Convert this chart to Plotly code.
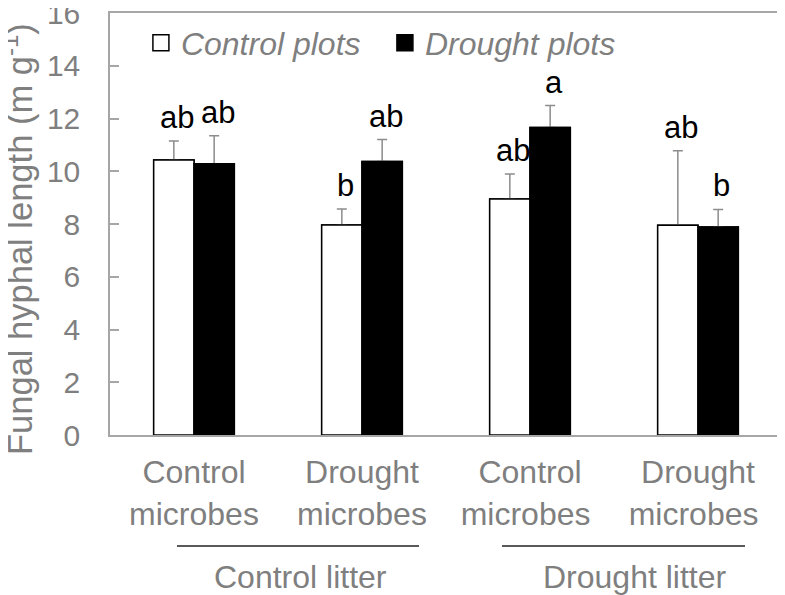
import plotly.graph_objects as go

categories = ["Control<br>microbes", "Drought<br>microbes", "Control<br>microbes ", "Drought<br>microbes "]
control_mean = [10.43, 7.96, 8.95, 7.95]
control_err = [0.72, 0.61, 0.95, 2.83]
drought_mean = [10.28, 10.37, 11.66, 7.89]
drought_err = [1.07, 0.83, 0.83, 0.66]
control_letters = ["ab", "b", "ab", "ab"]
drought_letters = ["ab", "ab", "a", "b"]
litter_groups = ["Control litter", "Drought litter"]
series_names = ["Control plots", "Drought plots"]
y_title = "Fungal hyphal length (m g<sup>-1</sup>)"

GRAY = "#7f7f7f"
AX = "#a6a6a6"
ERR = "#8c8c8c"
FONT = "Liberation Sans, Arial, sans-serif"

fig = go.Figure()
# bars with error bars (upper only)
fig.add_trace(go.Bar(
    x=categories, y=control_mean, name=series_names[0], showlegend=False, offsetgroup="c",
    marker=dict(color="white", line=dict(color="black", width=1.5)),
    error_y=dict(type="data", array=control_err, arrayminus=[0]*4, symmetric=False,
                 color=ERR, thickness=1.5, width=5),
))
fig.add_trace(go.Bar(
    x=categories, y=drought_mean, name=series_names[1], showlegend=False, offsetgroup="d",
    marker=dict(color="black", line=dict(color="black", width=1.5)),
    error_y=dict(type="data", array=drought_err, arrayminus=[0]*4, symmetric=False,
                 color=ERR, thickness=1.5, width=5),
))
# same bars drawn again on top so the error bars' lower caps are hidden
fig.add_trace(go.Bar(
    x=categories, y=control_mean, showlegend=False, offsetgroup="c", hoverinfo="skip",
    marker=dict(color="white", line=dict(color="black", width=1.5)),
))
fig.add_trace(go.Bar(
    x=categories, y=drought_mean, showlegend=False, offsetgroup="d", hoverinfo="skip",
    marker=dict(color="black", line=dict(color="black", width=1.5)),
))
# legend entries
fig.add_trace(go.Scatter(x=[None], y=[None], mode="markers", name=series_names[0],
                         marker=dict(symbol="square", size=16, color="white",
                                     line=dict(color="black", width=1.5))))
fig.add_trace(go.Scatter(x=[None], y=[None], mode="markers", name=series_names[1],
                         marker=dict(symbol="square", size=16, color="black",
                                     line=dict(color="black", width=1.5))))

annotations = []
off = 0.119
for i in range(4):
    annotations.append(dict(x=i - off, y=control_mean[i] + control_err[i], xref="x", yref="y",
                            text=control_letters[i], showarrow=False, xanchor="center", yanchor="bottom",
                            xshift=3, yshift=4, font=dict(size=31, color="black", family=FONT)))
    annotations.append(dict(x=i + off, y=drought_mean[i] + drought_err[i], xref="x", yref="y",
                            text=drought_letters[i], showarrow=False, xanchor="center", yanchor="bottom",
                            xshift=4, yshift=4, font=dict(size=31, color="black", family=FONT)))

# plot area on screen: x 110..782, y 13..435 (page body adds an 8 px offset)
W0, PW = 110, 672
PH, BOT = 422, 435
def px_x(p):
    return (p - W0) / PW
def px_y(p):
    return (BOT - p) / PH

annotations.append(dict(x=px_x(300), y=px_y(577), xref="paper", yref="paper", text=litter_groups[0],
                        xanchor="center", yanchor="middle",
                        showarrow=False, font=dict(size=32, color=GRAY, family=FONT)))
annotations.append(dict(x=px_x(635), y=px_y(577), xref="paper", yref="paper", text=litter_groups[1],
                        xanchor="center", yanchor="middle",
                        showarrow=False, font=dict(size=32, color=GRAY, family=FONT)))
annotations.append(dict(x=px_x(17), y=px_y(239), xref="paper", yref="paper", text=y_title,
                        textangle=-90, xanchor="center", yanchor="middle",
                        showarrow=False, font=dict(size=34.5, color=GRAY, family=FONT)))

shapes = [
    dict(type="line", xref="paper", yref="paper", x0=px_x(177), x1=px_x(419), y0=px_y(546), y1=px_y(546),
         line=dict(color="#222222", width=1.5)),
    dict(type="line", xref="paper", yref="paper", x0=px_x(502), x1=px_x(745), y0=px_y(546), y1=px_y(546),
         line=dict(color="#222222", width=1.5)),
]

fig.update_layout(
    width=777, height=587,
    margin=dict(l=102, r=3, t=5, b=160, autoexpand=False),
    paper_bgcolor="white", plot_bgcolor="white",
    barmode="group", bargap=0.52, bargroupgap=0,
    font=dict(family=FONT, color=GRAY, size=30),
    showlegend=True,
    legend=dict(orientation="h", x=0.046, y=px_y(43), xanchor="left", yanchor="middle",
                font=dict(size=32, color=GRAY, family=FONT, style="italic"),
                entrywidth=199, entrywidthmode="pixels",
                bgcolor="rgba(0,0,0,0)", itemclick=False),
    annotations=annotations,
    shapes=shapes,
    xaxis=dict(showline=True, mirror=True, linecolor=AX, linewidth=1.5, ticks="",
               automargin=False, ticklabelstandoff=8,
               tickfont=dict(size=32, color=GRAY), showgrid=False),
    yaxis=dict(range=[0, 16], dtick=2, showline=True, mirror=True, linecolor=AX, linewidth=1.5,
               ticks="inside", ticklen=9, tickcolor=AX, tickwidth=1.5, showgrid=False,
               automargin=False, ticklabeloverflow="allow", ticklabelstandoff=22,
               zeroline=False, tickfont=dict(size=30, color=GRAY)),
)

fig.write_html("out.html")
